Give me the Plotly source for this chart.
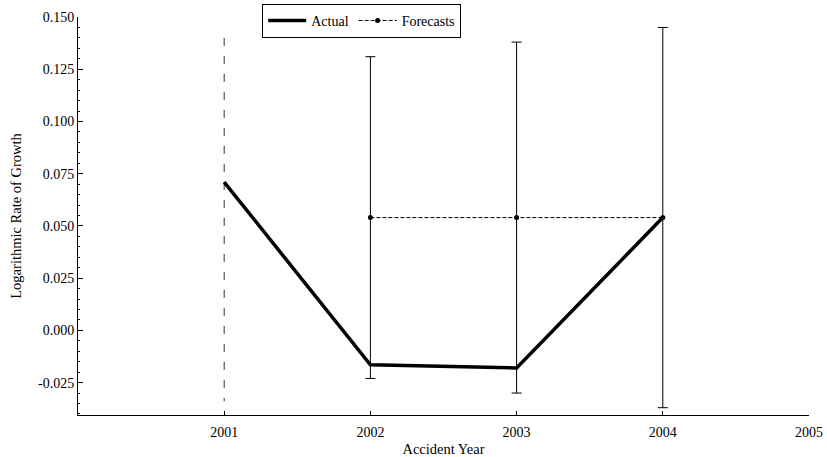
import plotly.graph_objects as go

actual_years = [2001, 2002, 2003, 2004]
actual_values = [0.071, -0.0165, -0.018, 0.054]

forecast_years = [2002, 2003, 2004]
forecast_values = [0.054, 0.054, 0.054]
forecast_upper = [0.131, 0.138, 0.145]
forecast_lower = [-0.023, -0.030, -0.037]

ref_year = [2001, 2001]
ref_span = [0.140, -0.034]

x_ticks = [2001, 2002, 2003, 2004, 2005]
y_ticks = [-0.025, 0.000, 0.025, 0.050, 0.075, 0.100, 0.125, 0.150]
y_tick_text = ["-0.025", "0.000", "0.025", "0.050", "0.075", "0.100", "0.125", "0.150"]

font = dict(family="Liberation Serif", size=14, color="black")
title_font = dict(family="Liberation Serif", size=14.5, color="black")

fig = go.Figure()

fig.add_trace(go.Scatter(
    x=ref_year, y=ref_span, mode="lines",
    line=dict(color="#333333", width=1, dash="8px,10px"),
    showlegend=False, hoverinfo="skip"))

fig.add_trace(go.Scatter(
    x=actual_years, y=actual_values, mode="lines", name="Actual",
    line=dict(color="black", width=3.5)))

fig.add_trace(go.Scatter(
    x=forecast_years, y=forecast_values, mode="lines+markers", name="Forecasts",
    line=dict(color="black", width=1, dash="4px,2px"),
    marker=dict(color="black", size=5),
    error_y=dict(type="data", symmetric=False,
                 array=[u - v for u, v in zip(forecast_upper, forecast_values)],
                 arrayminus=[v - l for v, l in zip(forecast_values, forecast_lower)],
                 color="black", thickness=1, width=5)))

fig.update_layout(
    width=827, height=457,
    margin=dict(l=78, r=18, t=17, b=42, autoexpand=False),
    paper_bgcolor="white", plot_bgcolor="white",
    font=font,
    legend=dict(orientation="h", x=0.252, y=1.033, xanchor="left", yanchor="top",
                bordercolor="black", borderwidth=1, bgcolor="white",
                font=dict(family="Liberation Serif", size=14, color="black"),
                itemwidth=38, tracegroupgap=0),
    xaxis=dict(range=[2000, 2005], tickvals=x_ticks, ticktext=[str(v) for v in x_ticks],
               showgrid=False, zeroline=False, showline=True, linecolor="black", linewidth=1,
               ticks="inside", ticklen=4, tickcolor="black", automargin=False,
               ticklabelstandoff=4,
               title=dict(text="Accident Year", font=title_font, standoff=8)),
    yaxis=dict(range=[-0.0405, 0.150], tickvals=y_ticks, ticktext=y_tick_text,
               showgrid=False, zeroline=False, showline=True, linecolor="black", linewidth=1,
               ticks="inside", ticklen=5, tickcolor="black", automargin=False,
               minor=dict(ticks="inside", ticklen=2, tickcolor="black", dtick=0.005, showgrid=False),
               title=dict(text="Logarithmic Rate of Growth", font=title_font, standoff=12)),
)

fig.write_html("out.html", config={"displayModeBar": False},
               post_script="document.body.style.margin='0';document.body.style.overflow='hidden';")
